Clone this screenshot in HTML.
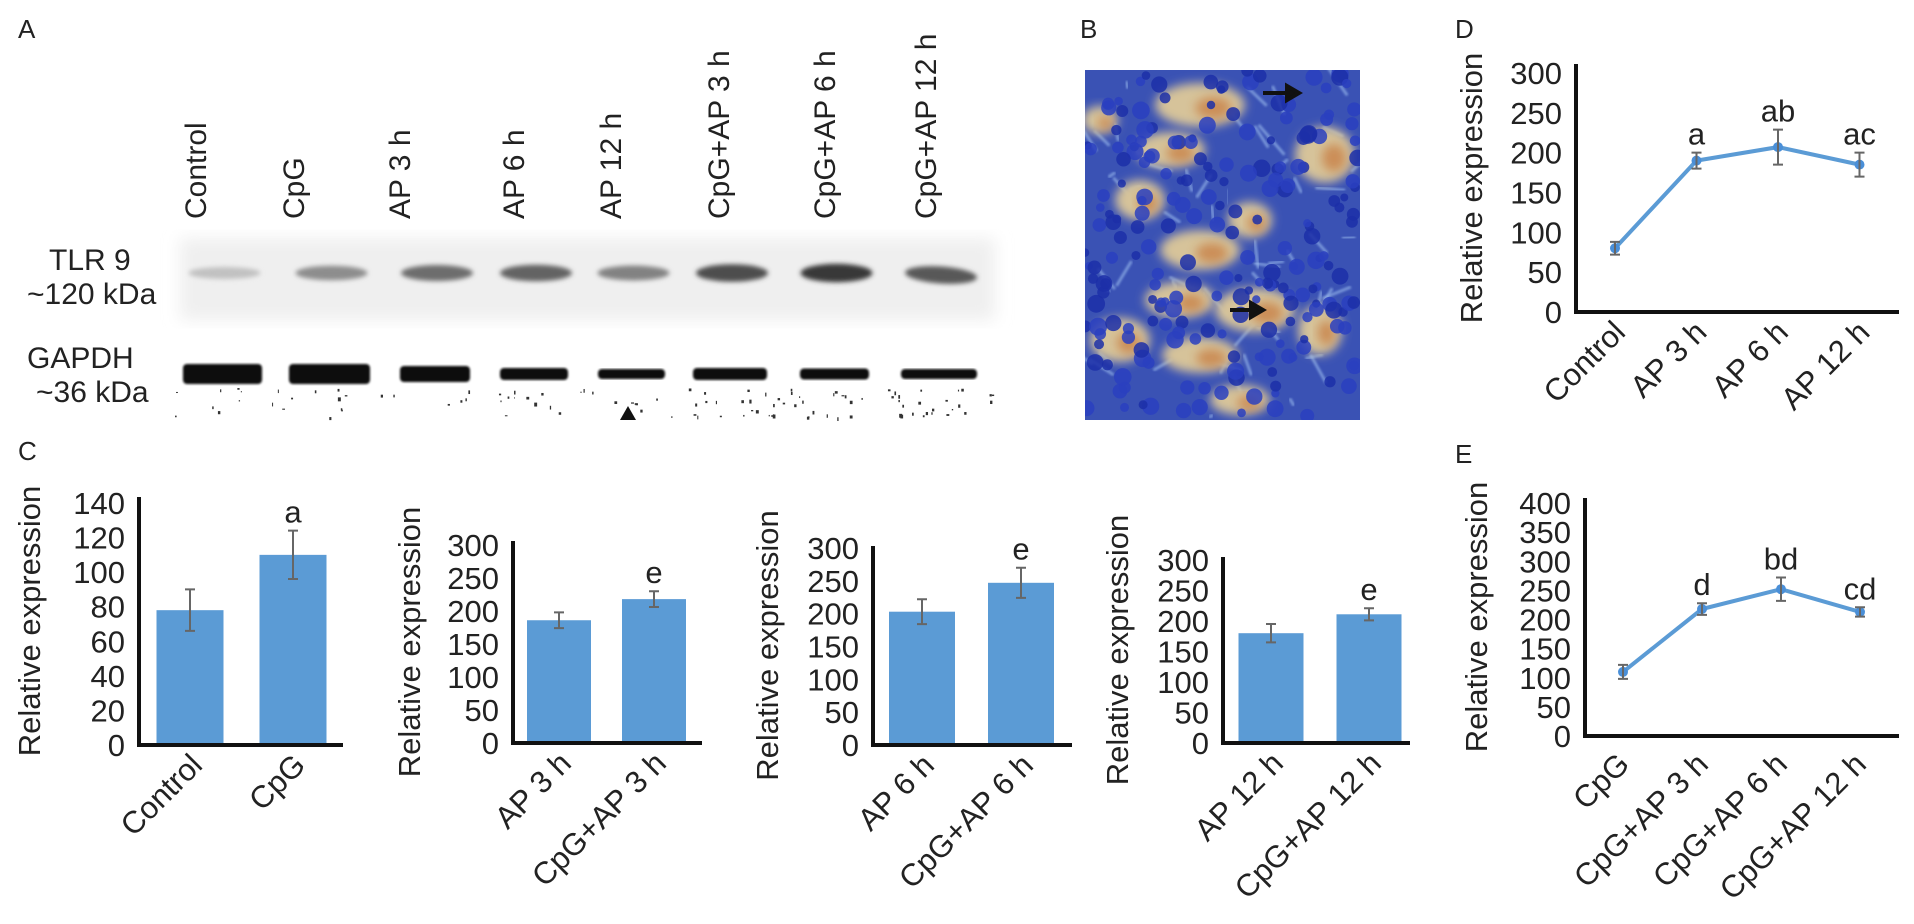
<!DOCTYPE html>
<html><head><meta charset="utf-8">
<style>
html,body{margin:0;padding:0;background:#fff;}
svg{display:block;font-family:"Liberation Sans",Arial,sans-serif;}
</style></head>
<body>
<svg id="fig" width="1914" height="924" viewBox="0 0 1914 924" xmlns="http://www.w3.org/2000/svg">
<defs>
<filter id="blur2" x="-20%" y="-50%" width="140%" height="200%"><feGaussianBlur stdDeviation="2.5"/></filter>
<filter id="blur1"><feGaussianBlur stdDeviation="1"/></filter>
<filter id="blur4" x="-30%" y="-30%" width="160%" height="160%"><feGaussianBlur stdDeviation="5"/></filter>
<filter id="bgblur"><feGaussianBlur stdDeviation="8"/></filter>
<clipPath id="histclip"><rect x="1085" y="70" width="275" height="350"/></clipPath>
</defs>
<g id="panelA"></g>
<g id="panelB"></g>
<g id="charts"></g>
</svg>
<script>
// ---- Panel C data ----
const c1Cats = ["Control", "CpG"];
const c1Vals = [78, 110];
const c1Errs = [12, 14];
const c1Sig = ["", "a"];
const c1Ticks = [0, 20, 40, 60, 80, 100, 120, 140];

const c2Cats = ["AP 3 h", "CpG+AP 3 h"];
const c2Vals = [186, 218];
const c2Errs = [12, 12];
const c2Sig = ["", "e"];

const c3Cats = ["AP 6 h", "CpG+AP 6 h"];
const c3Vals = [203, 247];
const c3Errs = [19, 23];
const c3Sig = ["", "e"];

const c4Cats = ["AP 12 h", "CpG+AP 12 h"];
const c4Vals = [180, 211];
const c4Errs = [15, 10];
const c4Sig = ["", "e"];

const ticks300 = [0, 50, 100, 150, 200, 250, 300];

// ---- Panel D data ----
const dCats = ["Control", "AP 3 h", "AP 6 h", "AP 12 h"];
const dVals = [80, 190, 207, 185];
const dErrs = [8, 10, 22, 15];
const dSig = ["", "a", "ab", "ac"];

// ---- Panel E data ----
const eCats = ["CpG", "CpG+AP 3 h", "CpG+AP 6 h", "CpG+AP 12 h"];
const eVals = [110, 218, 252, 213];
const eErrs = [12, 10, 20, 8];
const eSig = ["", "d", "bd", "cd"];
const eTicks = [0, 50, 100, 150, 200, 250, 300, 350, 400];

// ---- Panel A lanes ----
const laneLabels = ["Control","CpG","AP 3 h","AP 6 h","AP 12 h","CpG+AP 3 h","CpG+AP 6 h","CpG+AP 12 h"];
const tlrIntensity = [0.2, 0.45, 0.6, 0.65, 0.5, 0.75, 0.85, 0.7];

const NS = "http://www.w3.org/2000/svg";
function mk(parent, tag, attrs, text){
  const e = document.createElementNS(NS, tag);
  for (const k in attrs) e.setAttribute(k, attrs[k]);
  if (text !== undefined) e.textContent = text;
  parent.appendChild(e);
  return e;
}
const charts = document.getElementById('charts');
const pA = document.getElementById('panelA');
const pB = document.getElementById('panelB');

// Panel letters
const letters = [["A",18,38],["B",1080,38],["C",18,460],["D",1455,38],["E",1455,463]];
letters.forEach(l=>{
  const t = mk(charts,'text',{x:l[1],y:l[2],'font-size':26,fill:'#222'},l[0]);
  
  
});

// ---------- Panel A ----------
const laneX = [195,293,399,513,610,718,824,925];
const gapX = [[183,262],[289,370],[400,470],[500,568],[598,665],[693,767],[800,869],[901,977]];
const bg = mk(pA,'rect',{x:180,y:238,width:815,height:82,fill:'#efefef',filter:'url(#bgblur)'});


laneLabels.forEach((lab,i)=>{
  const x = laneX[i] + 11;
  const t = mk(pA,'text',{x:x,y:219,'font-size':30,fill:'#222','text-anchor':'start',transform:`rotate(-90 ${x} 219)`},lab);
  
  
});
tlrIntensity.forEach((v,i)=>{
  const g = Math.round(235 - v*210);
  const cx = (gapX[i][0]+gapX[i][1])/2 + 2;
  const ry = 5 + v*5;
  const b = mk(pA,'ellipse',{cx:cx,cy:i===7?275:273,rx:36,ry:ry,fill:`rgb(${g},${g},${g})`,filter:'url(#blur2)',transform:i===7?`rotate(4 ${cx} 275)`:''});
  
  
});
const t1 = mk(pA,'text',{x:49,y:270,'font-size':30,fill:'#222'},"TLR 9");
 
const t2 = mk(pA,'text',{x:27,y:304,'font-size':30,fill:'#222'},"~120 kDa");
 
const t3 = mk(pA,'text',{x:27,y:368,'font-size':30,fill:'#222'},"GAPDH");
 
const t4 = mk(pA,'text',{x:36,y:402,'font-size':30,fill:'#222'},"~36 kDa");
 
const gh = [20,20,16,12,10,12,11,10];
gapX.forEach((r,i)=>{
  const b = mk(pA,'rect',{x:r[0],y:374-gh[i]/2,width:r[1]-r[0],height:gh[i],rx:4,fill:'#111',filter:'url(#blur1)'});
  
  
});
// speckle noise (decorative)
let seed = 7;
function rnd(){ seed = (seed*16807) % 2147483647; return seed/2147483647; }
for (let k=0;k<110;k++){
  const x = 175 + rnd()*820, y = 388 + rnd()*30;
  const d = mk(pA,'rect',{x:x,y:y,width:1+rnd()*2,height:1+rnd()*3,fill:'#333'});
  
  
}
const tri = mk(pA,'path',{d:'M620 420 L628 406 L636 420 Z',fill:'#111'});



// ---------- Panel B ----------
const hg = mk(pB,'g',{'clip-path':'url(#histclip)'});
const hbg = mk(hg,'rect',{x:1085,y:70,width:275,height:350,fill:'#3a52b4'});


for (let k=0;k<60;k++){
  const l = mk(hg,'path',{d:`M${1085+rnd()*275} ${70+rnd()*350} l${rnd()*60-30} ${rnd()*60-30}`,stroke:'#9fc0f0',"stroke-width":3,opacity:0.6,filter:'url(#blur1)'});
   
}
const blobs = [[1200,105,45,22],[1170,150,35,18],[1325,155,30,28],[1140,200,25,20],[1250,220,22,18],[1200,250,40,20],[1180,300,35,18],[1255,310,40,22],[1120,340,30,22],[1200,355,38,18],[1320,330,22,25],[1240,400,30,15],[1100,120,18,14]];
blobs.forEach(b=>{
  const e = mk(hg,'ellipse',{cx:b[0],cy:b[1],rx:b[2],ry:b[3],fill:'#d6c39a',filter:'url(#blur4)'});
   
  const o = mk(hg,'ellipse',{cx:b[0]+b[2]*0.3,cy:b[1]+3,rx:b[2]*0.4,ry:b[3]*0.5,fill:'#c46a2a',opacity:0.6,filter:'url(#blur4)'});
   
});
for (let k=0;k<220;k++){
  const c = mk(hg,'circle',{cx:1085+rnd()*275,cy:70+rnd()*350,r:4+rnd()*5,fill:rnd()<0.5?'#1c2fa8':'#2a3fc0',opacity:0.85});
   
}
[[1263,93,1299,93],[1230,310,1263,310]].forEach(a=>{
  const ar = mk(pB,'path',{d:`M${a[0]} ${a[1]} L${a[2]-8} ${a[1]} M${a[2]} ${a[1]} l-12 -7 l0 14 z`,stroke:'#111','stroke-width':4,fill:'#111'});
   
});

// ---------- Chart helper ----------
function drawChart(o){
  const g = mk(charts,'g',{});
  
  
  const maxV = o.ticks[o.ticks.length-1];
  const ys = v => o.yBase - v/maxV*(o.yBase - o.yMax);
  o.ticks.forEach(v=>{
    const t = mk(g,'text',{x:o.axisX-14,y:ys(v)+11,'font-size':31,'text-anchor':'end',fill:'#222'},String(v));
    
    
  });
  const tc = (o.yBase + o.axisTop)/2 + (o.titleDy||0);
  const tt = mk(g,'text',{x:o.titleX,y:tc,'font-size':31,'text-anchor':'middle',fill:'#222',transform:`rotate(-90 ${o.titleX} ${tc})`},"Relative expression");
  
  
  const xs = i => o.xStart + i*o.xStep;
  if (o.type==='bar'){
    o.vals.forEach((v,i)=>{
      const r = mk(g,'rect',{x:xs(i)-o.barW/2,y:ys(v),width:o.barW,height:o.yBase-ys(v),fill:'#5b9bd5'});
      
      
    });
  } else {
    const pts = o.vals.map((v,i)=>xs(i)+','+ys(v)).join(' ');
    const pl = mk(g,'polyline',{points:pts,fill:'none',stroke:'#5b9bd5','stroke-width':4});
    
    
    o.vals.forEach((v,i)=>{
      const c = mk(g,'circle',{cx:xs(i),cy:ys(v),r:5,fill:'#4a8fd8'});
      
      
    });
  }
  o.vals.forEach((v,i)=>{
    const x = xs(i), yt = ys(v+o.errs[i]), yb = ys(v-o.errs[i]);
    const e = mk(g,'path',{d:`M${x} ${yt} L${x} ${yb} M${x-5} ${yt} L${x+5} ${yt} M${x-5} ${yb} L${x+5} ${yb}`,stroke:'#666','stroke-width':2,fill:'none'});
    
    
    if (o.sig[i]){
      const s = mk(g,'text',{x:x,y:yt-8,'font-size':31,'text-anchor':'middle',fill:'#222'},o.sig[i]);
      
      
    }
    const lx = x + o.labDx, ly = o.yBase + o.labDy;
    const l = mk(g,'text',{x:lx,y:ly,'font-size':31,'text-anchor':'end',fill:'#222',transform:`rotate(-45 ${lx} ${ly})`},o.cats[i]);
    
    
  });
  const ax = mk(g,'path',{d:`M${o.axisX} ${o.axisTop} L${o.axisX} ${o.yBase} L${o.axisEnd} ${o.yBase}`,stroke:'#111','stroke-width':4,fill:'none'});
  
  
}

drawChart({name:'chart-c1',type:'bar',cats:c1Cats,vals:c1Vals,errs:c1Errs,sig:c1Sig,ticks:c1Ticks,
  axisX:139,axisTop:497,yMax:503,yBase:745,axisEnd:343,xStart:190,xStep:103,barW:67,titleX:40,labDx:14,labDy:22});
drawChart({name:'chart-c2',type:'bar',cats:c2Cats,vals:c2Vals,errs:c2Errs,sig:c2Sig,ticks:ticks300,
  axisX:513,axisTop:541,yMax:545,yBase:743,axisEnd:702,xStart:559,xStep:95,barW:64,titleX:420,labDx:14,labDy:22});
drawChart({name:'chart-c3',type:'bar',cats:c3Cats,vals:c3Vals,errs:c3Errs,sig:c3Sig,ticks:ticks300,
  axisX:873,axisTop:546,yMax:548,yBase:745,axisEnd:1072,xStart:922,xStep:99,barW:66,titleX:778,labDx:14,labDy:22});
drawChart({name:'chart-c4',type:'bar',cats:c4Cats,vals:c4Vals,errs:c4Errs,sig:c4Sig,ticks:ticks300,
  axisX:1223,axisTop:557,yMax:560,yBase:743,axisEnd:1410,xStart:1271,xStep:98,barW:65,titleX:1128,labDx:14,labDy:22});
drawChart({name:'chart-d',type:'line',cats:dCats,vals:dVals,errs:dErrs,sig:dSig,ticks:ticks300,
  axisX:1576,axisTop:64,yMax:73,yBase:312,axisEnd:1899,xStart:1615,xStep:81.5,titleX:1482,labDx:12,labDy:22});
drawChart({name:'chart-e',type:'line',cats:eCats,vals:eVals,errs:eErrs,sig:eSig,ticks:eTicks,
  axisX:1585,axisTop:498,yMax:503,yBase:736,axisEnd:1899,xStart:1623,xStep:79,titleX:1487,labDx:8,labDy:30});
</script>
</body></html>
